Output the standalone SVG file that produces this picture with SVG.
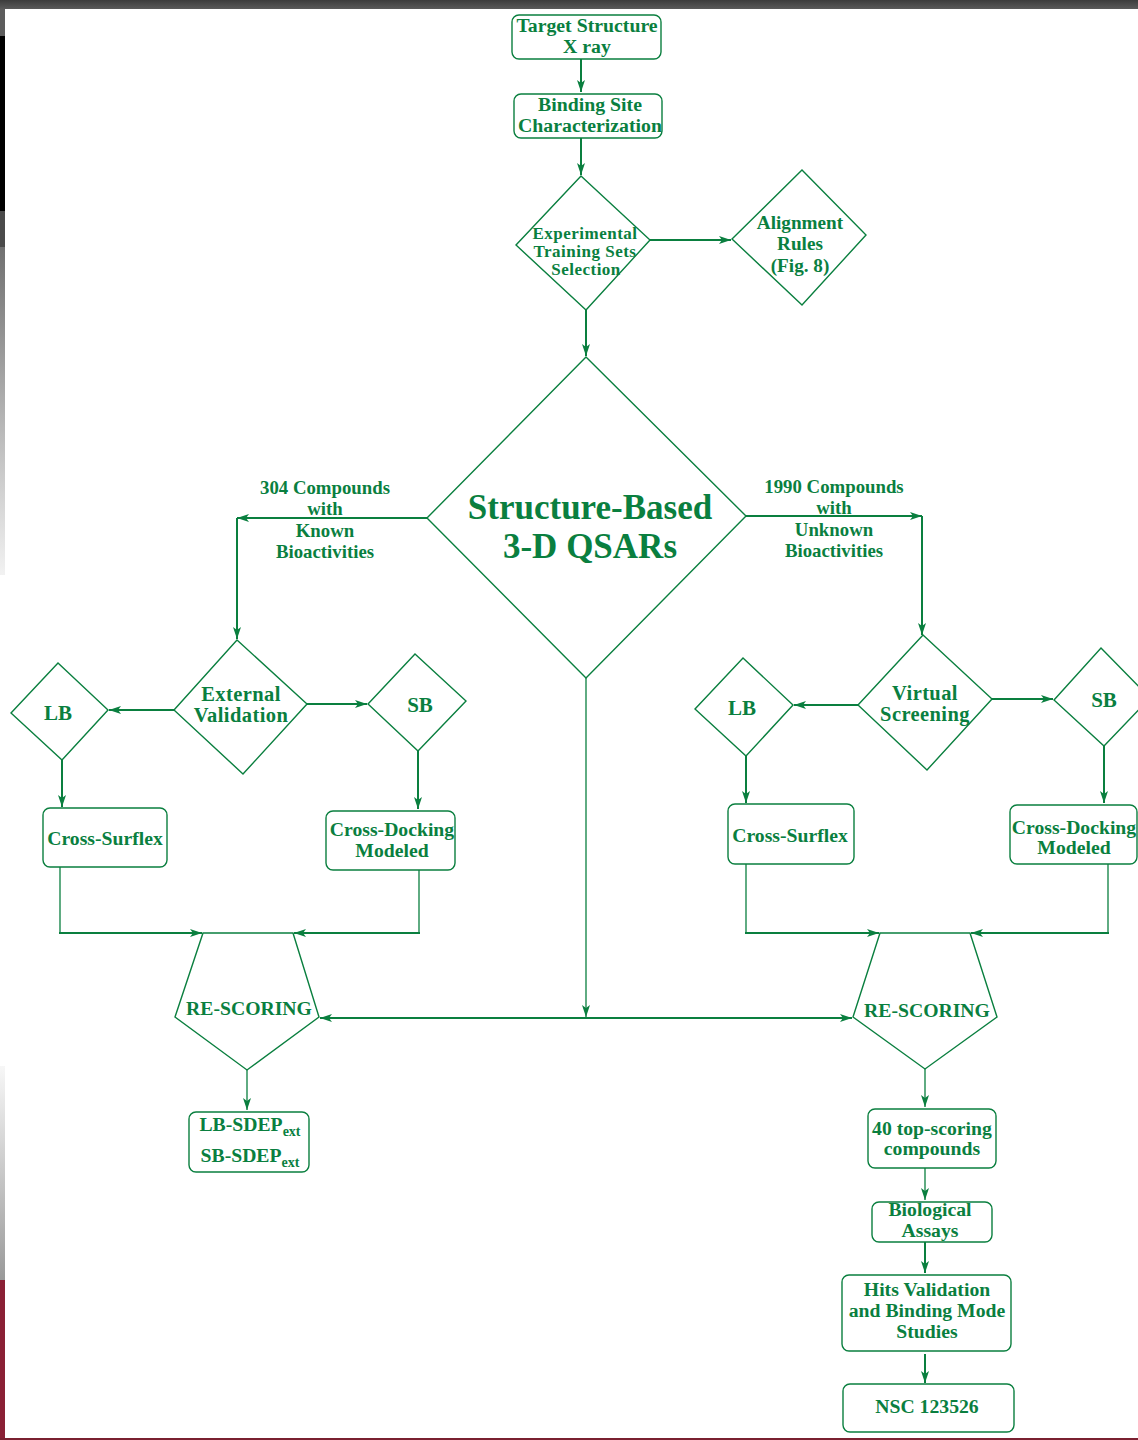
<svg xmlns="http://www.w3.org/2000/svg" width="1138" height="1440" viewBox="0 0 1138 1440">
<defs>
<style>
.n{fill:none;stroke:#0a7f3f;stroke-width:1.4}
.t{font-family:"Liberation Serif","Times New Roman",serif;font-weight:bold;fill:#0a7f3f;text-anchor:middle}
.c{fill:none;stroke:#0a7f3f;stroke-width:2}
.c1{fill:none;stroke:#0a7f3f;stroke-width:1.3}
</style>
<marker id="ah" markerUnits="userSpaceOnUse" markerWidth="14" markerHeight="10" refX="12" refY="4" orient="auto">
<path d="M0,0 L12,4 L0,8 L3,4 Z" fill="#0a7f3f"/>
</marker>
<linearGradient id="g1" x1="0" y1="0" x2="0" y2="1">
<stop offset="0" stop-color="#707070"/><stop offset="1" stop-color="#f2f2f2"/>
</linearGradient>
<linearGradient id="g2" x1="0" y1="0" x2="0" y2="1">
<stop offset="0" stop-color="#f7f7f7"/><stop offset="1" stop-color="#999"/>
</linearGradient>
<linearGradient id="gt" x1="0" y1="0" x2="0" y2="1">
<stop offset="0" stop-color="#3c3c3c"/><stop offset="1" stop-color="#5a5a5a"/>
</linearGradient>
</defs>
<rect width="1138" height="1440" fill="#fff"/>
<!-- frame artifacts -->
<rect x="0" y="0" width="1138" height="9" fill="url(#gt)"/>
<rect x="0" y="9" width="5" height="27" fill="#5c5c5c"/>
<rect x="0" y="36" width="5" height="175" fill="#000"/>
<rect x="0" y="211" width="5" height="36" fill="#4a4a4a"/>
<rect x="0" y="247" width="5" height="328" fill="url(#g1)"/>
<rect x="0" y="1066" width="5" height="214" fill="url(#g2)"/>
<rect x="0" y="1280" width="5" height="160" fill="#8a2035"/>
<rect x="0" y="1438" width="1138" height="2" fill="#7a2030"/>

<g id="connectors">
<line class="c" x1="581" y1="59" x2="581" y2="92" marker-end="url(#ah)"/>
<line class="c" x1="581" y1="138" x2="581" y2="175" marker-end="url(#ah)"/>
<line class="c" x1="650" y1="240" x2="731" y2="240" marker-end="url(#ah)"/>
<line class="c" x1="586" y1="310" x2="586" y2="356" marker-end="url(#ah)"/>
<line class="c" x1="427" y1="518" x2="237" y2="518" marker-end="url(#ah)"/>
<line class="c" x1="237" y1="518" x2="237" y2="639" marker-end="url(#ah)"/>
<line class="c" x1="746" y1="516" x2="922" y2="516" marker-end="url(#ah)"/>
<line class="c" x1="922" y1="516" x2="922" y2="635" marker-end="url(#ah)"/>
<line class="c" x1="174" y1="710" x2="109" y2="710" marker-end="url(#ah)"/>
<line class="c" x1="307" y1="704" x2="367" y2="704" marker-end="url(#ah)"/>
<line class="c" x1="62" y1="760" x2="62" y2="807" marker-end="url(#ah)"/>
<line class="c" x1="418" y1="751" x2="418" y2="809" marker-end="url(#ah)"/>
<polyline class="c1" points="60,867 60,933"/>
<line class="c" x1="59" y1="933" x2="202" y2="933" marker-end="url(#ah)"/>
<polyline class="c1" points="419,870 419,933"/>
<line class="c" x1="420" y1="933" x2="294" y2="933" marker-end="url(#ah)"/>
<line class="c1" x1="586" y1="678" x2="586" y2="1017" marker-end="url(#ah)"/>
<line class="c" x1="586" y1="1018" x2="320" y2="1018" marker-end="url(#ah)"/>
<line class="c" x1="586" y1="1018" x2="852" y2="1018" marker-end="url(#ah)"/>
<line class="c1" x1="247" y1="1070" x2="247" y2="1110" marker-end="url(#ah)"/>
<line class="c" x1="858" y1="705" x2="794" y2="705" marker-end="url(#ah)"/>
<line class="c" x1="992" y1="699" x2="1053" y2="699" marker-end="url(#ah)"/>
<line class="c" x1="746" y1="756" x2="746" y2="803" marker-end="url(#ah)"/>
<line class="c" x1="1104" y1="746" x2="1104" y2="803" marker-end="url(#ah)"/>
<polyline class="c1" points="746,864 746,933"/>
<line class="c" x1="745" y1="933" x2="879" y2="933" marker-end="url(#ah)"/>
<polyline class="c1" points="1108,864 1108,933"/>
<line class="c" x1="1109" y1="933" x2="971" y2="933" marker-end="url(#ah)"/>
<line class="c1" x1="925" y1="1069" x2="925" y2="1107" marker-end="url(#ah)"/>
<line class="c1" x1="925" y1="1168" x2="925" y2="1200" marker-end="url(#ah)"/>
<line class="c" x1="925" y1="1242" x2="925" y2="1273" marker-end="url(#ah)"/>
<line class="c" x1="925" y1="1354" x2="925" y2="1383" marker-end="url(#ah)"/>
</g>

<g id="target">
<rect class="n" x="512" y="15" width="149" height="44" rx="7"/>
<text class="t" font-size="19.8"><tspan x="587" y="32">Target Structure</tspan><tspan x="587" y="53">X ray</tspan></text>
</g>
<g id="binding">
<rect class="n" x="514" y="94" width="148" height="44" rx="7"/>
<text class="t" font-size="19.8"><tspan x="590" y="111">Binding Site</tspan><tspan x="590" y="132">Characterization</tspan></text>
</g>
<g id="experimental">
<polygon class="n" points="581,176 650,240 586,310 516,245"/>
<text class="t" font-size="17" letter-spacing="0.5"><tspan x="585" y="239">Experimental</tspan><tspan x="585" y="257">Training Sets</tspan><tspan x="586" y="275">Selection</tspan></text>
</g>
<g id="alignment">
<polygon class="n" points="802,170 866,235 802,305 732,239"/>
<text class="t" font-size="19.2"><tspan x="800" y="229">Alignment</tspan><tspan x="800" y="250">Rules</tspan><tspan x="800" y="272">(Fig. 8)</tspan></text>
</g>
<g id="qsar">
<polygon class="n" points="586,357 746,516 586,678 427,518"/>
<text class="t" font-size="35"><tspan x="590" y="519">Structure-Based</tspan><tspan x="590" y="558">3-D QSARs</tspan></text>
</g>
<g id="label-left">
<text class="t" font-size="18.8"><tspan x="325" y="494">304 Compounds</tspan><tspan x="325" y="515">with</tspan><tspan x="325" y="537">Known</tspan><tspan x="325" y="558">Bioactivities</tspan></text>
</g>
<g id="label-right">
<text class="t" font-size="18.8"><tspan x="834" y="493">1990 Compounds</tspan><tspan x="834" y="514">with</tspan><tspan x="834" y="536">Unknown</tspan><tspan x="834" y="557">Bioactivities</tspan></text>
</g>
<g id="external">
<polygon class="n" points="237,640 307,704 243,774 174,710"/>
<text class="t" font-size="20.5" letter-spacing="0.4"><tspan x="241" y="701">External</tspan><tspan x="241" y="722">Validation</tspan></text>
</g>
<g id="lb-left">
<polygon class="n" points="58,663 108,710 62,760 11,713"/>
<text class="t" font-size="21" x="58" y="720">LB</text>
</g>
<g id="sb-left">
<polygon class="n" points="415,654 466,701 418,751 368,704"/>
<text class="t" font-size="21" x="420" y="712">SB</text>
</g>
<g id="surflex-left">
<rect class="n" x="43" y="808" width="124" height="59" rx="7"/>
<text class="t" font-size="19.7" x="105" y="845">Cross-Surflex</text>
</g>
<g id="docking-left">
<rect class="n" x="326" y="811" width="129" height="59" rx="7"/>
<text class="t" font-size="19.7"><tspan x="392" y="836">Cross-Docking</tspan><tspan x="392" y="857">Modeled</tspan></text>
</g>
<g id="rescoring-left">
<polygon class="n" points="203,933 293,933 319,1017 247,1070 175,1017"/>
<text class="t" font-size="19.7" x="249" y="1015">RE-SCORING</text>
</g>
<g id="sdep">
<rect class="n" x="189" y="1112" width="120" height="60" rx="7"/>
<text class="t" font-size="19.7" x="250" y="1131">LB-SDEP<tspan font-size="14" dy="5">ext</tspan></text>
<text class="t" font-size="19.7" x="250" y="1162">SB-SDEP<tspan font-size="14" dy="5">ext</tspan></text>
</g>
<g id="virtual">
<polygon class="n" points="923,635 992,699 927,770 858,705"/>
<text class="t" font-size="20.5" letter-spacing="0.4"><tspan x="925" y="700">Virtual</tspan><tspan x="925" y="721">Screening</tspan></text>
</g>
<g id="lb-right">
<polygon class="n" points="743,658 793,705 746,756 695,709"/>
<text class="t" font-size="21" x="742" y="715">LB</text>
</g>
<g id="sb-right">
<polygon class="n" points="1101,648 1150,698 1104,746 1054,700"/>
<text class="t" font-size="21" x="1104" y="707">SB</text>
</g>
<g id="surflex-right">
<rect class="n" x="728" y="804" width="126" height="60" rx="7"/>
<text class="t" font-size="19.7" x="790" y="842">Cross-Surflex</text>
</g>
<g id="docking-right">
<rect class="n" x="1010" y="805" width="127" height="59" rx="7"/>
<text class="t" font-size="19.7"><tspan x="1074" y="834">Cross-Docking</tspan><tspan x="1074" y="854">Modeled</tspan></text>
</g>
<g id="rescoring-right">
<polygon class="n" points="880,933 970,933 997,1017 925,1069 853,1017"/>
<text class="t" font-size="19.7" x="927" y="1017">RE-SCORING</text>
</g>
<g id="top40">
<rect class="n" x="868" y="1109" width="128" height="59" rx="7"/>
<text class="t" font-size="19.7"><tspan x="932" y="1135">40 top-scoring</tspan><tspan x="932" y="1155">compounds</tspan></text>
</g>
<g id="bioassays">
<rect class="n" x="872" y="1202" width="120" height="40" rx="7"/>
<text class="t" font-size="19.7"><tspan x="930" y="1216">Biological</tspan><tspan x="930" y="1237">Assays</tspan></text>
</g>
<g id="hits">
<rect class="n" x="842" y="1275" width="169" height="76" rx="7"/>
<text class="t" font-size="19.7"><tspan x="927" y="1296">Hits Validation</tspan><tspan x="927" y="1317">and Binding Mode</tspan><tspan x="927" y="1338">Studies</tspan></text>
</g>
<g id="nsc">
<rect class="n" x="843" y="1384" width="171" height="48" rx="7"/>
<text class="t" font-size="19.7" x="927" y="1413">NSC 123526</text>
</g>
</svg>
